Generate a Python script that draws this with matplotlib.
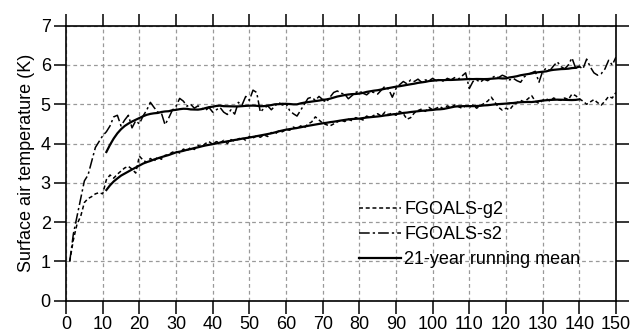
import numpy as np
import matplotlib
matplotlib.use("Agg")
import matplotlib.pyplot as plt

plt.rcParams['font.family'] = ['Liberation Sans', 'DejaVu Sans']

years = np.arange(1, 151)

# annual mean surface air temperature change (K)
g2 = [1.00, 1.55, 1.95, 2.15, 2.50, 2.60, 2.65, 2.72, 2.75, 2.72,
      3.08, 3.20, 3.12, 3.22, 3.30, 3.38, 3.42, 3.35, 3.25, 3.68,
      3.58, 3.52, 3.62, 3.55, 3.66, 3.60, 3.70, 3.72, 3.78, 3.80,
      3.76, 3.86, 3.82, 3.90, 3.85, 3.95, 3.92, 4.00, 4.05, 3.98,
      4.05, 4.02, 4.08, 4.00, 4.10, 4.06, 4.12, 4.15, 4.08, 4.18,
      4.14, 4.20, 4.16, 4.22, 4.18, 4.28, 4.24, 4.32, 4.30, 4.36,
      4.34, 4.42, 4.38, 4.45, 4.40, 4.50, 4.55, 4.68, 4.60, 4.52,
      4.48, 4.45, 4.50, 4.55, 4.60, 4.56, 4.62, 4.58, 4.66, 4.64,
      4.60, 4.70, 4.66, 4.72, 4.76, 4.70, 4.80, 4.74, 4.78, 4.72,
      4.82, 4.76, 4.62, 4.66, 4.78, 4.84, 4.88, 4.82, 4.92, 4.86,
      4.90, 4.94, 4.88, 4.96, 4.92, 4.98, 4.94, 4.90, 4.96, 4.92,
      4.98, 4.90, 4.96, 5.02, 5.08, 5.18, 5.05, 4.92, 4.85, 4.90,
      4.86, 4.98, 5.04, 5.10, 5.06, 5.14, 5.22, 5.08, 5.02, 5.10,
      5.14, 5.08, 5.16, 5.12, 5.10, 5.16, 5.12, 5.26, 5.22, 5.14,
      5.08, 5.00, 5.06, 5.12, 5.04, 4.98, 5.08, 5.20, 5.16, 5.30]

s2 = [1.00, 1.70, 2.15, 2.60, 3.05, 3.20, 3.55, 3.90, 4.05, 4.20,
      4.30, 4.45, 4.68, 4.72, 4.45, 4.60, 4.72, 4.40, 4.58, 4.50,
      4.70, 4.85, 5.05, 4.92, 4.80, 4.78, 4.48, 4.65, 4.85, 4.95,
      5.15, 5.08, 4.95, 5.00, 4.90, 4.96, 4.90, 4.84, 4.92, 4.80,
      4.86, 4.92, 4.80, 4.74, 4.86, 4.75, 5.05, 4.98, 5.20, 5.10,
      5.36, 5.30, 4.80, 4.90, 4.96, 4.86, 4.96, 5.05, 4.98, 5.02,
      4.84, 4.76, 4.70, 4.85, 5.00, 5.15, 5.18, 5.10, 5.20, 5.12,
      5.05, 5.18, 5.30, 5.34, 5.28, 5.26, 5.14, 5.22, 5.30, 5.34,
      5.28, 5.24, 5.32, 5.30, 5.26, 5.36, 5.46, 5.38, 5.18, 5.40,
      5.50, 5.58, 5.52, 5.62, 5.58, 5.64, 5.56, 5.62, 5.60, 5.66,
      5.60, 5.64, 5.58, 5.66, 5.62, 5.68, 5.64, 5.72, 5.80, 5.40,
      5.58, 5.62, 5.56, 5.64, 5.60, 5.66, 5.72, 5.68, 5.74, 5.70,
      5.62, 5.66, 5.60, 5.56, 5.70, 5.76, 5.80, 5.84, 5.56, 5.84,
      5.92, 5.86, 5.98, 6.08, 5.96, 5.90, 6.00, 6.18, 5.92, 5.96,
      5.90, 6.15, 5.95, 5.80, 5.74, 5.78, 5.90, 6.12, 6.00, 6.20]

window = 21


def running_mean(v, n):
    return np.convolve(np.asarray(v), np.ones(n) / n, mode='valid')


half = window // 2
rm_years = years[half:len(years) - half]
g2_rm = running_mean(g2, window)
s2_rm = running_mean(s2, window)

fig = plt.figure(figsize=(6.35, 3.36), dpi=100)
ax = fig.add_axes([0.104, 0.105, 0.866, 0.8185])

ax.plot(years, g2, color='black', lw=1.1, dashes=(2.6, 1.8), label='FGOALS-g2')
ax.plot(years, s2, color='black', lw=1.1, dashes=(7, 2, 1.5, 2), label='FGOALS-s2')
ax.plot(rm_years, g2_rm, color='black', lw=1.6, label='21-year running mean')
ax.plot(rm_years, s2_rm, color='black', lw=1.6)

ax.set_xlim(0, 150)
ax.set_ylim(0, 7)
ax.set_xticks(np.arange(0, 151, 10))
ax.set_yticks(np.arange(0, 8, 1))
ax.grid(True, color='#999999', lw=0.9, dashes=(3, 2.5))
ax.set_axisbelow(True)

for sp in ax.spines.values():
    sp.set_linewidth(1.2)
ax.tick_params(direction='out', length=9, width=1.1, labelsize=13,
               top=True, right=True, pad=2)
ax.set_ylabel('Surface air temperature (K)', fontsize=13, labelpad=4)

leg = ax.legend(loc='upper left', bbox_to_anchor=(0.533, 0.362), frameon=False,
                fontsize=13, handlelength=2.3, handletextpad=0.2,
                labelspacing=0.45, borderpad=0, borderaxespad=0)

fig.savefig('out.png', dpi=100)
